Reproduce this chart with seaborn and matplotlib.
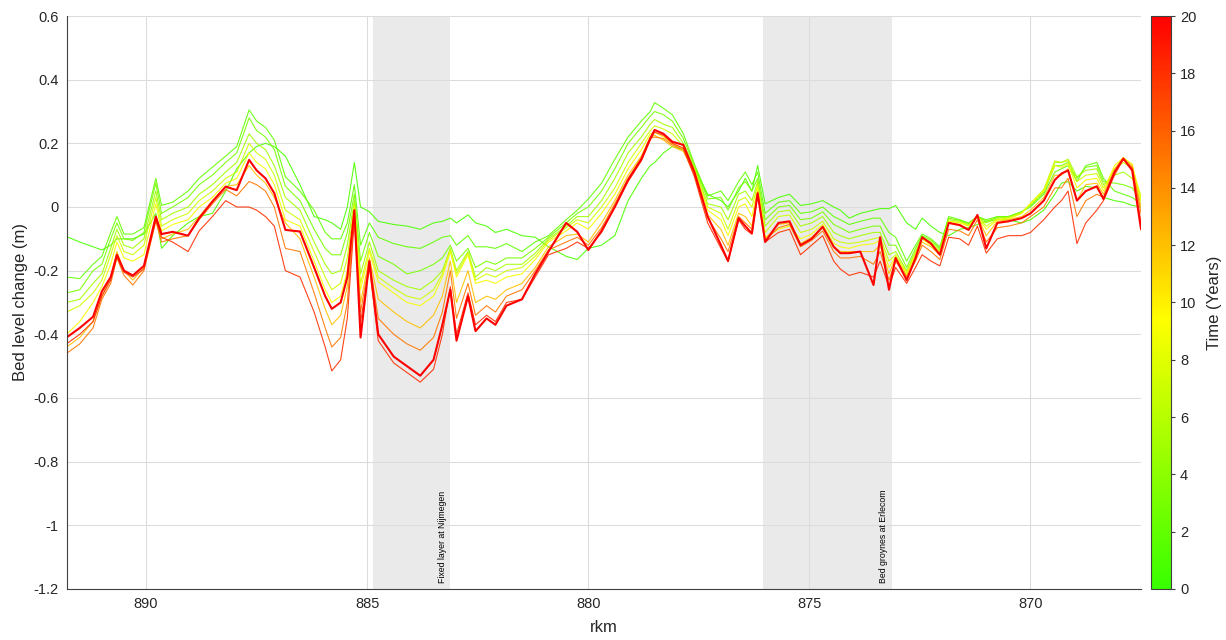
import numpy as np
import pandas as pd
import matplotlib
matplotlib.use("Agg")
import matplotlib.pyplot as plt
import seaborn as sns
from matplotlib.colors import LinearSegmentedColormap, Normalize
from matplotlib.cm import ScalarMappable

# River kilometre of each profile point (Waal, upstream on the left)
rkm = [891.8, 891.5, 891.2, 891.0, 890.8, 890.66, 890.5, 890.3, 890.05, 889.78,
       889.65, 889.4, 889.05, 888.8, 888.5, 888.2, 887.95, 887.67, 887.5, 887.3,
       887.1, 886.85, 886.52, 886.2, 885.95, 885.8, 885.6, 885.45, 885.29, 885.15,
       884.95, 884.75, 884.4, 884.1, 883.8, 883.5, 883.3, 883.12, 882.98, 882.72,
       882.55, 882.3, 882.1, 881.85, 881.5, 881.2, 880.9, 880.5, 880.25, 880.0,
       879.7, 879.4, 879.1, 878.8, 878.6, 878.5, 878.3, 878.1, 877.85, 877.6,
       877.3, 877.0, 876.84, 876.6, 876.45, 876.3, 876.17, 876.0, 875.7, 875.45,
       875.2, 874.95, 874.7, 874.45, 874.3, 874.1, 873.85, 873.55, 873.4, 873.2,
       873.05, 872.8, 872.6, 872.45, 872.25, 872.05, 871.85, 871.6, 871.4, 871.2,
       871.0, 870.75, 870.5, 870.2, 870.0, 869.7, 869.45, 869.3, 869.15, 868.95,
       868.75, 868.5, 868.35, 868.1, 867.9, 867.7, 867.5]

# Bed level change (m) per simulated year
dz_year01 = [-0.093, -0.11, -0.125, -0.135, -0.12, -0.10, -0.10, -0.10, -0.085, -0.02,
             -0.13, -0.09, -0.05, -0.03, -0.02, 0.05, 0.12, 0.17, 0.19, 0.20,
             0.19, 0.16, 0.07, -0.03, -0.04, -0.05, -0.07, 0.0, 0.14, 0.0,
             -0.015, -0.045, -0.055, -0.06, -0.07, -0.05, -0.045, -0.035, -0.05, -0.025,
             -0.05, -0.06, -0.08, -0.07, -0.09, -0.095, -0.125, -0.155, -0.165, -0.13,
             -0.12, -0.09, 0.02, 0.09, 0.13, 0.14, 0.17, 0.19, 0.18, 0.12,
             0.04, 0.02, 0.0, 0.05, 0.09, 0.05, 0.13, 0.01, 0.03, 0.04,
             0.005, 0.01, 0.02, 0.0, -0.01, -0.035, -0.02, -0.01, -0.005, -0.005,
             0.005, -0.05, -0.07, -0.035, -0.06, -0.08, -0.09, -0.07, -0.065, -0.055,
             -0.045, -0.04, -0.04, -0.05, -0.04, -0.01, 0.04, 0.075, 0.08, 0.05,
             0.065, 0.06, 0.03, 0.02, 0.015, 0.005, 0.0]
dz_year02 = [-0.22, -0.225, -0.18, -0.155, -0.08, -0.03, -0.085, -0.085, -0.065, 0.09,
             0.005, 0.015, 0.05, 0.09, 0.125, 0.16, 0.19, 0.305, 0.27, 0.25,
             0.21, 0.095, 0.05, -0.01, -0.08, -0.10, -0.10, -0.05, 0.07, -0.12,
             -0.05, -0.095, -0.115, -0.125, -0.13, -0.11, -0.095, -0.09, -0.12, -0.09,
             -0.125, -0.125, -0.13, -0.115, -0.14, -0.11, -0.09, -0.04, -0.01, 0.025,
             0.075, 0.15, 0.22, 0.27, 0.30, 0.328, 0.31, 0.29, 0.23, 0.135,
             0.035, 0.05, 0.02, 0.08, 0.11, 0.07, 0.11, -0.02, 0.015, 0.02,
             -0.02, -0.015, 0.0, -0.03, -0.04, -0.055, -0.045, -0.035, -0.035, -0.08,
             -0.095, -0.17, -0.12, -0.085, -0.10, -0.125, -0.03, -0.04, -0.05, -0.03,
             -0.04, -0.03, -0.03, -0.015, 0.0, 0.04, 0.11, 0.12, 0.13, 0.08,
             0.13, 0.14, 0.09, 0.05, 0.04, 0.03, 0.01]
dz_year03 = [-0.27, -0.26, -0.20, -0.18, -0.10, -0.05, -0.10, -0.105, -0.08, 0.075,
             -0.02, 0.0, 0.03, 0.07, 0.10, 0.14, 0.17, 0.28, 0.24, 0.22,
             0.18, 0.065, 0.02, -0.07, -0.13, -0.15, -0.15, -0.08, 0.04, -0.17,
             -0.08, -0.155, -0.18, -0.21, -0.20, -0.18, -0.16, -0.12, -0.17, -0.13,
             -0.19, -0.17, -0.18, -0.16, -0.16, -0.13, -0.095, -0.05, -0.02, 0.0,
             0.05, 0.12, 0.20, 0.25, 0.285, 0.30, 0.29, 0.27, 0.215, 0.13,
             0.025, 0.03, -0.01, 0.06, 0.08, 0.05, 0.09, -0.04, 0.0, 0.005,
             -0.04, -0.035, -0.015, -0.055, -0.065, -0.08, -0.07, -0.06, -0.06, -0.12,
             -0.12, -0.19, -0.13, -0.09, -0.105, -0.13, -0.035, -0.042, -0.052, -0.03,
             -0.045, -0.032, -0.03, -0.015, 0.005, 0.045, 0.13, 0.13, 0.14, 0.09,
             0.125, 0.13, 0.08, 0.075, 0.07, 0.06, 0.02]
dz_year05 = [-0.30, -0.29, -0.24, -0.21, -0.13, -0.07, -0.12, -0.13, -0.10, 0.05,
             -0.04, -0.02, 0.0, 0.04, 0.07, 0.11, 0.14, 0.23, 0.20, 0.18,
             0.13, 0.03, -0.01, -0.11, -0.18, -0.21, -0.20, -0.12, 0.02, -0.21,
             -0.11, -0.20, -0.23, -0.25, -0.26, -0.23, -0.20, -0.13, -0.20, -0.14,
             -0.22, -0.19, -0.20, -0.18, -0.18, -0.145, -0.10, -0.06, -0.03, -0.03,
             0.02, 0.09, 0.17, 0.22, 0.26, 0.275, 0.26, 0.25, 0.20, 0.125,
             0.01, 0.0, -0.04, 0.04, 0.05, 0.02, 0.08, -0.06, -0.015, -0.01,
             -0.06, -0.05, -0.03, -0.08, -0.09, -0.10, -0.09, -0.08, -0.08, -0.15,
             -0.14, -0.20, -0.14, -0.095, -0.11, -0.135, -0.04, -0.045, -0.055, -0.03,
             -0.05, -0.035, -0.032, -0.018, 0.01, 0.05, 0.14, 0.14, 0.15, 0.095,
             0.115, 0.12, 0.07, 0.10, 0.11, 0.09, 0.03]
dz_year07 = [-0.33, -0.31, -0.27, -0.23, -0.15, -0.09, -0.14, -0.15, -0.12, 0.03,
             -0.06, -0.04, -0.02, 0.02, 0.05, 0.09, 0.11, 0.20, 0.17, 0.15,
             0.10, -0.01, -0.04, -0.14, -0.22, -0.26, -0.24, -0.16, 0.01, -0.24,
             -0.13, -0.22, -0.255, -0.28, -0.29, -0.26, -0.21, -0.135, -0.21, -0.145,
             -0.23, -0.21, -0.22, -0.20, -0.19, -0.155, -0.105, -0.065, -0.04, -0.05,
             0.0, 0.06, 0.14, 0.20, 0.24, 0.255, 0.245, 0.23, 0.19, 0.12,
             0.0, -0.02, -0.07, 0.02, 0.03, 0.0, 0.07, -0.08, -0.03, -0.025,
             -0.08, -0.07, -0.045, -0.10, -0.11, -0.115, -0.11, -0.10, -0.095, -0.17,
             -0.15, -0.205, -0.145, -0.10, -0.115, -0.14, -0.045, -0.048, -0.058, -0.03,
             -0.06, -0.038, -0.035, -0.02, 0.012, 0.055, 0.145, 0.14, 0.145, 0.08,
             0.10, 0.105, 0.06, 0.12, 0.14, 0.12, 0.035]
dz_year09 = [-0.40, -0.36, -0.30, -0.25, -0.18, -0.11, -0.16, -0.17, -0.15, 0.01,
             -0.075, -0.055, -0.04, 0.0, 0.03, 0.075, 0.09, 0.17, 0.14, 0.12,
             0.07, -0.04, -0.06, -0.17, -0.26, -0.30, -0.28, -0.20, 0.0, -0.26,
             -0.14, -0.235, -0.27, -0.30, -0.31, -0.28, -0.22, -0.14, -0.22, -0.15,
             -0.24, -0.23, -0.24, -0.22, -0.21, -0.165, -0.11, -0.075, -0.05, -0.07,
             -0.02, 0.04, 0.12, 0.18, 0.23, 0.235, 0.22, 0.20, 0.18, 0.115,
             -0.01, -0.04, -0.09, 0.0, 0.01, -0.03, 0.06, -0.095, -0.07, -0.06,
             -0.10, -0.085, -0.055, -0.115, -0.125, -0.13, -0.12, -0.115, -0.105, -0.19,
             -0.155, -0.21, -0.15, -0.10, -0.12, -0.145, -0.045, -0.05, -0.06, -0.03,
             -0.07, -0.04, -0.038, -0.02, 0.01, 0.05, 0.13, 0.125, 0.135, 0.06,
             0.085, 0.09, 0.05, 0.13, 0.155, 0.135, 0.02]
dz_year12 = [-0.44, -0.41, -0.36, -0.28, -0.22, -0.14, -0.20, -0.23, -0.19, -0.035,
             -0.10, -0.085, -0.07, -0.03, 0.02, 0.065, 0.07, 0.13, 0.10, 0.075,
             0.03, -0.05, -0.10, -0.22, -0.32, -0.37, -0.34, -0.25, -0.01, -0.30,
             -0.16, -0.29, -0.33, -0.36, -0.38, -0.34, -0.28, -0.17, -0.30, -0.20,
             -0.30, -0.28, -0.29, -0.26, -0.24, -0.19, -0.125, -0.09, -0.085, -0.11,
             -0.05, 0.02, 0.10, 0.16, 0.22, 0.225, 0.21, 0.19, 0.175, 0.105,
             -0.025, -0.07, -0.12, -0.02, -0.03, -0.06, 0.05, -0.10, -0.055, -0.05,
             -0.115, -0.095, -0.065, -0.125, -0.14, -0.14, -0.14, -0.14, -0.12, -0.21,
             -0.16, -0.215, -0.16, -0.11, -0.125, -0.15, -0.05, -0.055, -0.07, -0.03,
             -0.09, -0.045, -0.04, -0.03, -0.01, 0.03, 0.10, 0.10, 0.12, 0.02,
             0.07, 0.075, 0.04, 0.12, 0.155, 0.13, 0.0]
dz_year15 = [-0.46, -0.43, -0.38, -0.29, -0.24, -0.16, -0.215, -0.245, -0.20, -0.045,
             -0.11, -0.10, -0.09, -0.04, 0.01, 0.055, 0.035, 0.08, 0.07, 0.05,
             0.0, -0.13, -0.14, -0.27, -0.38, -0.44, -0.41, -0.30, -0.02, -0.33,
             -0.17, -0.35, -0.40, -0.43, -0.45, -0.41, -0.33, -0.20, -0.35, -0.24,
             -0.34, -0.31, -0.33, -0.28, -0.26, -0.20, -0.135, -0.11, -0.095, -0.12,
             -0.065, 0.01, 0.09, 0.155, 0.215, 0.22, 0.215, 0.195, 0.18, 0.10,
             -0.035, -0.10, -0.14, -0.03, -0.05, -0.07, 0.045, -0.105, -0.065, -0.055,
             -0.125, -0.105, -0.075, -0.14, -0.16, -0.16, -0.155, -0.18, -0.14, -0.23,
             -0.17, -0.22, -0.17, -0.12, -0.14, -0.165, -0.07, -0.075, -0.09, -0.04,
             -0.11, -0.065, -0.06, -0.05, -0.03, 0.0, 0.06, 0.06, 0.09, -0.03,
             0.02, 0.04, 0.03, 0.11, 0.15, 0.125, -0.02]
dz_year18 = [-0.43, -0.40, -0.36, -0.28, -0.23, -0.155, -0.205, -0.22, -0.195, -0.04,
             -0.095, -0.11, -0.14, -0.075, -0.03, 0.02, 0.0, 0.0, -0.01, -0.03,
             -0.06, -0.20, -0.22, -0.33, -0.44, -0.515, -0.48, -0.35, -0.04, -0.36,
             -0.19, -0.42, -0.49, -0.52, -0.55, -0.51, -0.40, -0.25, -0.40, -0.27,
             -0.37, -0.34, -0.36, -0.30, -0.29, -0.22, -0.15, -0.13, -0.11, -0.13,
             -0.08, 0.0, 0.08, 0.145, 0.21, 0.235, 0.225, 0.20, 0.185, 0.095,
             -0.05, -0.13, -0.17, -0.04, -0.07, -0.085, 0.04, -0.11, -0.08, -0.07,
             -0.15, -0.12, -0.09, -0.17, -0.195, -0.215, -0.205, -0.22, -0.17, -0.25,
             -0.19, -0.24, -0.19, -0.15, -0.17, -0.185, -0.095, -0.10, -0.12, -0.06,
             -0.145, -0.10, -0.09, -0.09, -0.08, -0.04, 0.0, 0.02, 0.05, -0.115,
             -0.05, -0.01, 0.02, 0.10, 0.15, 0.12, -0.05]
dz_year20 = [-0.41, -0.38, -0.345, -0.265, -0.22, -0.15, -0.20, -0.215, -0.185, -0.03,
             -0.085, -0.078, -0.09, -0.035, 0.017, 0.064, 0.053, 0.148, 0.115, 0.09,
             0.043, -0.072, -0.077, -0.19, -0.28, -0.32, -0.30, -0.22, -0.01, -0.41,
             -0.17, -0.40, -0.47, -0.50, -0.53, -0.48, -0.37, -0.26, -0.42, -0.28,
             -0.39, -0.35, -0.37, -0.31, -0.29, -0.21, -0.14, -0.05, -0.078, -0.135,
             -0.075, 0.0, 0.085, 0.15, 0.215, 0.242, 0.23, 0.205, 0.195, 0.11,
             -0.03, -0.12, -0.17, -0.035, -0.06, -0.083, 0.043, -0.11, -0.05, -0.045,
             -0.12, -0.10, -0.062, -0.125, -0.145, -0.145, -0.14, -0.245, -0.095, -0.26,
             -0.16, -0.23, -0.16, -0.095, -0.115, -0.15, -0.05, -0.057, -0.072, -0.025,
             -0.13, -0.05, -0.045, -0.035, -0.02, 0.02, 0.085, 0.105, 0.115, 0.02,
             0.05, 0.065, 0.025, 0.11, 0.152, 0.115, -0.07]

profiles = {1: dz_year01, 2: dz_year02, 3: dz_year03, 5: dz_year05, 7: dz_year07,
            9: dz_year09, 12: dz_year12, 15: dz_year15, 18: dz_year18, 20: dz_year20}

# Stretches with river training works
fixed_layer = (884.86, 883.12)
bed_groynes = (876.04, 873.14)

df = pd.concat(
    [pd.DataFrame({"rkm": rkm, "dz": vals, "year": yr}) for yr, vals in profiles.items()],
    ignore_index=True,
)

sns.set_theme(style="white")
plt.rcParams["font.family"] = ["Liberation Sans", "DejaVu Sans"]
plt.rcParams["axes.unicode_minus"] = False

cmap = LinearSegmentedColormap.from_list(
    "green_yellow_red",
    [(0.0, (0.22, 1.0, 0.0)), (0.47, (1.0, 1.0, 0.0)), (1.0, (1.0, 0.0, 0.0))],
)
norm = Normalize(vmin=0, vmax=20)

fig = plt.figure(figsize=(12.26, 6.4), dpi=100)
ax = fig.add_axes([0.0546, 0.0797, 0.8761, 0.8953])
cax = fig.add_axes([0.9388, 0.0797, 0.0163, 0.8953])

for lo, hi in (fixed_layer, bed_groynes):
    ax.axvspan(lo, hi, color="#EAEAEA", lw=0, zorder=0.5)

last = max(profiles)
sns.lineplot(data=df[df["year"] < last], x="rkm", y="dz", hue="year",
             palette=cmap, hue_norm=norm, units="year", estimator=None,
             linewidth=0.8, alpha=0.9, legend=False, ax=ax)
sns.lineplot(data=df[df["year"] == last], x="rkm", y="dz",
             color=cmap(norm(last)), linewidth=1.5, estimator=None, ax=ax)

ax.set_xlim(891.79, 867.5)
ax.set_ylim(-1.2, 0.6)
ax.set_xticks([890, 885, 880, 875, 870])
yt = [-1.2, -1.0, -0.8, -0.6, -0.4, -0.2, 0.0, 0.2, 0.4, 0.6]
ax.set_yticks(yt)
ax.set_yticklabels(["-1.2", "-1", "-0.8", "-0.6", "-0.4", "-0.2", "0", "0.2", "0.4", "0.6"])
ax.set_axisbelow("line")
ax.grid(True, color="#DCDCDC", linewidth=0.8)
for side in ("top", "right"):
    ax.spines[side].set_visible(False)
for side in ("left", "bottom"):
    ax.spines[side].set_color("#404040")
    ax.spines[side].set_linewidth(0.8)
ax.tick_params(direction="in", length=7, width=0.8, color="#555555",
               labelsize=10.5, labelcolor="#262626", pad=6)
ax.set_xlabel("rkm", fontsize=12, color="#262626", labelpad=6)
ax.set_ylabel("Bed level change (m)", fontsize=12, color="#262626", labelpad=4)

ax.text(883.3, -1.182, "Fixed layer at Nijmegen", rotation=90, ha="center",
        va="bottom", fontsize=6.3, color="black")
ax.text(873.33, -1.182, "Bed groynes at Erlecom", rotation=90, ha="center",
        va="bottom", fontsize=6.3, color="black")

cbar = fig.colorbar(ScalarMappable(norm=norm, cmap=cmap), cax=cax)
cbar.set_ticks(list(range(0, 21, 2)))
cbar.outline.set_edgecolor("#404040")
cbar.outline.set_linewidth(0.8)
cax.tick_params(direction="out", length=3, width=0.8, color="#404040",
                labelsize=10.5, labelcolor="#262626")
cbar.set_label("Time (Years)", fontsize=12, color="#262626", labelpad=8)

fig.savefig("out.png", dpi=100)
